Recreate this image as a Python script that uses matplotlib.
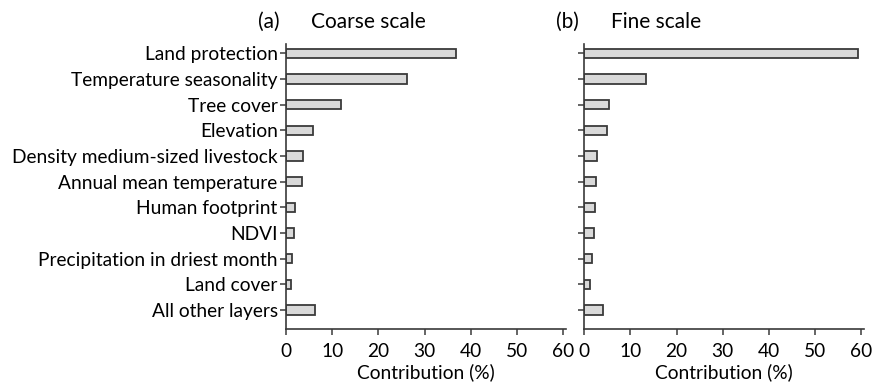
import matplotlib
matplotlib.use("Agg")
import matplotlib.pyplot as plt
import numpy as np

plt.rcParams['font.family'] = ['Lato', 'DejaVu Sans']

layers = ["Land protection", "Temperature seasonality", "Tree cover", "Elevation",
          "Density medium-sized livestock", "Annual mean temperature",
          "Human footprint", "NDVI", "Precipitation in driest month",
          "Land cover", "All other layers"]
coarse = [36.7, 26.1, 12.0, 5.9, 3.6, 3.4, 1.9, 1.8, 1.2, 1.1, 6.3]
fine = [59.3, 13.4, 5.4, 5.0, 2.7, 2.5, 2.3, 2.1, 1.7, 1.2, 4.1]
xticks = [0, 10, 20, 30, 40, 50, 60]

edge = "#3a3a3a"
fill = "#d9d9d9"

fig = plt.figure(figsize=(8.72, 3.84), dpi=100)
ax1 = fig.add_axes([0.328, 0.143, 0.321, 0.742])
ax2 = fig.add_axes([0.670, 0.143, 0.321, 0.742])

y = np.arange(len(layers))
for ax, vals in [(ax1, coarse), (ax2, fine)]:
    ax.barh(y, vals, height=0.36, color=fill, edgecolor=edge, linewidth=1.3)
    ax.set_ylim(10.74, -0.36)
    ax.set_xlim(0, 60.6)
    ax.set_xticks(xticks)
    ax.set_yticks(y)
    for s in ["top", "right"]:
        ax.spines[s].set_visible(False)
    for s in ["left", "bottom"]:
        ax.spines[s].set_color(edge)
        ax.spines[s].set_linewidth(1.2)
    ax.tick_params(axis="both", colors=edge, width=1.1, length=4, labelsize=13.8,
                   labelcolor="black", pad=2)
    ax.tick_params(axis="x", pad=6)
    ax.set_xlabel("Contribution (%)", fontsize=13.8, labelpad=2)

ax1.set_yticklabels(layers)
ax2.set_yticklabels([])

fig.text(0.296, 0.943, "(a)", fontsize=15, va="center")
fig.text(0.357, 0.943, "Coarse scale", fontsize=15, va="center")
fig.text(0.638, 0.943, "(b)", fontsize=15, va="center")
fig.text(0.701, 0.943, "Fine scale", fontsize=15, va="center")

fig.savefig("out.png", dpi=100)
